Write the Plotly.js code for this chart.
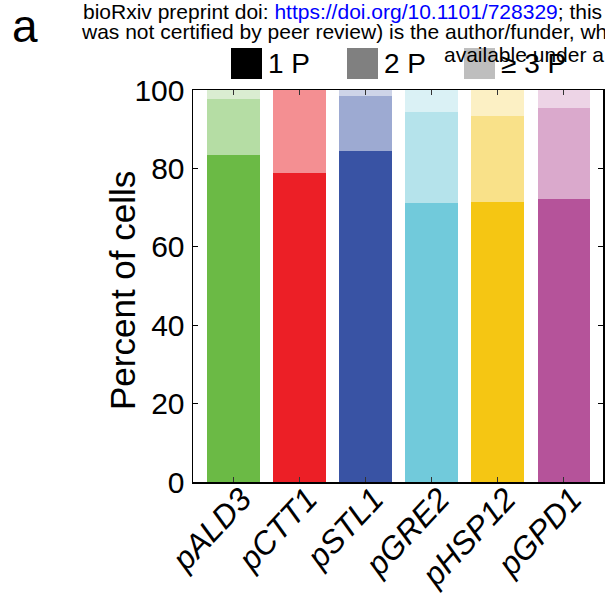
<!DOCTYPE html>
<html>
<head>
<meta charset="utf-8">
<script src="https://cdn.plot.ly/plotly-3.0.1.min.js"></script>
<style>html,body{margin:0;padding:0;background:#fff;}#chart{width:605px;height:596px;}</style>
</head>
<body>
<div id="chart"></div>
<script>
// Data
const promoters = ["pALD3", "pCTT1", "pSTL1", "pGRE2", "pHSP12", "pGPD1"];
const onePercent = [83.4, 78.8, 84.4, 71.2, 71.4, 72.2];
const twoPercent = [14.3, 21.2, 14.1, 23.2, 22.0, 23.2];
const threePlusPercent = [2.3, 0.0, 1.5, 5.6, 6.6, 4.6];
const legendLabels = ["1 P", "2 P", "\u2265 3 P"];

const darkColors  = ["#6BBA45", "#EC1F26", "#3953A4", "#71CADB", "#F5C613", "#B5539A"];
const midColors   = ["#B5DDA4", "#F48F92", "#9DAAD2", "#B5E3EB", "#F9E189", "#DAA9CC"];
const lightColors = ["#DAEDD1", "#FAC7C8", "#CED4E8", "#DAF1F5", "#FCF0C4", "#EDD4E6"];
const legendColors = ["#000000", "#808080", "#BEBEBE"];

const FONT = "Liberation Sans, Arial, Helvetica, sans-serif";

function barTrace(vals, colors, name) {
  return {
    type: "bar", x: promoters, y: vals, name: name,
    marker: {color: colors, line: {width: 0}},
    hoverinfo: "skip", showlegend: false
  };
}
const data = [
  barTrace(onePercent, darkColors, legendLabels[0]),
  barTrace(twoPercent, midColors, legendLabels[1]),
  barTrace(threePlusPercent, lightColors, legendLabels[2])
];

// legend drawn as shapes + text in paper space
const W = 605, H = 596, ml = 193, mr = 2, mt = 90, mb = 114;
const pw = W - ml - mr, ph = H - mt - mb;
function px2x(p) { return (p - ml) / pw; }
function py2y(p) { return (H - mb - p) / ph; }

const legX = [231, 347, 464];
const shapes = [];
const annotations = [];

// header texts (drawn first, legend drawn above)
annotations.push({xref: "paper", yref: "paper", x: px2x(10), y: py2y(26), xanchor: "left", yanchor: "middle",
  showarrow: false, text: "a", font: {family: FONT, size: 46, color: "#000"}});
annotations.push({xref: "paper", yref: "paper", x: px2x(81), y: py2y(12), xanchor: "left", yanchor: "middle",
  showarrow: false, text: "bioRxiv preprint doi: <span style='color:#0000FF'>https://doi.org/10.1101/728329</span>; this",
  font: {family: FONT, size: 21, color: "#000"}});
annotations.push({xref: "paper", yref: "paper", x: px2x(79), y: py2y(31), xanchor: "left", yanchor: "middle",
  showarrow: false, text: "was not certified by peer review) is the author/funder, wh",
  font: {family: FONT, size: 21, color: "#000"}});
annotations.push({xref: "paper", yref: "paper", x: px2x(442), y: py2y(54), xanchor: "left", yanchor: "middle",
  showarrow: false, text: "available under a",
  font: {family: FONT, size: 21, color: "#000"}});

legX.forEach((lx, i) => {
  shapes.push({type: "rect", xref: "paper", yref: "paper",
    x0: px2x(lx), x1: px2x(lx + 31), y0: py2y(79), y1: py2y(48),
    fillcolor: legendColors[i], line: {width: 0}, layer: "above"});
  annotations.push({xref: "paper", yref: "paper", x: px2x(lx + 35), y: py2y(63.5),
    xanchor: "left", yanchor: "middle", showarrow: false, text: legendLabels[i],
    font: {family: FONT, size: 28, color: "#000"}});
});

// y-axis title placed as rotated text
annotations.push({xref: "paper", yref: "paper", x: px2x(122), y: py2y(291), xanchor: "center", yanchor: "middle",
  showarrow: false, textangle: -90, text: "Percent of cells",
  font: {family: FONT, size: 35, color: "#000"}});

const layout = {
  width: W, height: H,
  margin: {l: ml, r: mr, t: mt, b: mb, pad: 0},
  paper_bgcolor: "#fff", plot_bgcolor: "#fff",
  barmode: "stack", bargap: 0.2,
  showlegend: false,
  font: {family: FONT, color: "#000"},
  xaxis: {
    type: "category", range: [-0.61, 5.59], autorange: false,
    showgrid: false, zeroline: false,
    showline: true, linecolor: "#000", linewidth: 1.5, mirror: "ticks",
    ticks: "inside", ticklen: 5, tickwidth: 1, tickcolor: "#333",
    tickangle: -47, tickfont: {family: FONT, size: 32, style: "italic", color: "#000"},
    ticklabelstandoff: -16, ticklabelshift: 8,
    automargin: false
  },
  yaxis: {
    range: [0, 100], autorange: false, dtick: 20, tick0: 0,
    showgrid: false, zeroline: false,
    showline: true, linecolor: "#000", linewidth: 1.5, mirror: "ticks",
    ticks: "inside", ticklen: 5, tickwidth: 1, tickcolor: "#000",
    tickfont: {family: FONT, size: 30, color: "#000"},
    ticklabelstandoff: 1,
    automargin: false
  },
  shapes: shapes,
  annotations: annotations
};

Plotly.newPlot("chart", data, layout, {displayModeBar: false, staticPlot: true});
</script>
</body>
</html>
